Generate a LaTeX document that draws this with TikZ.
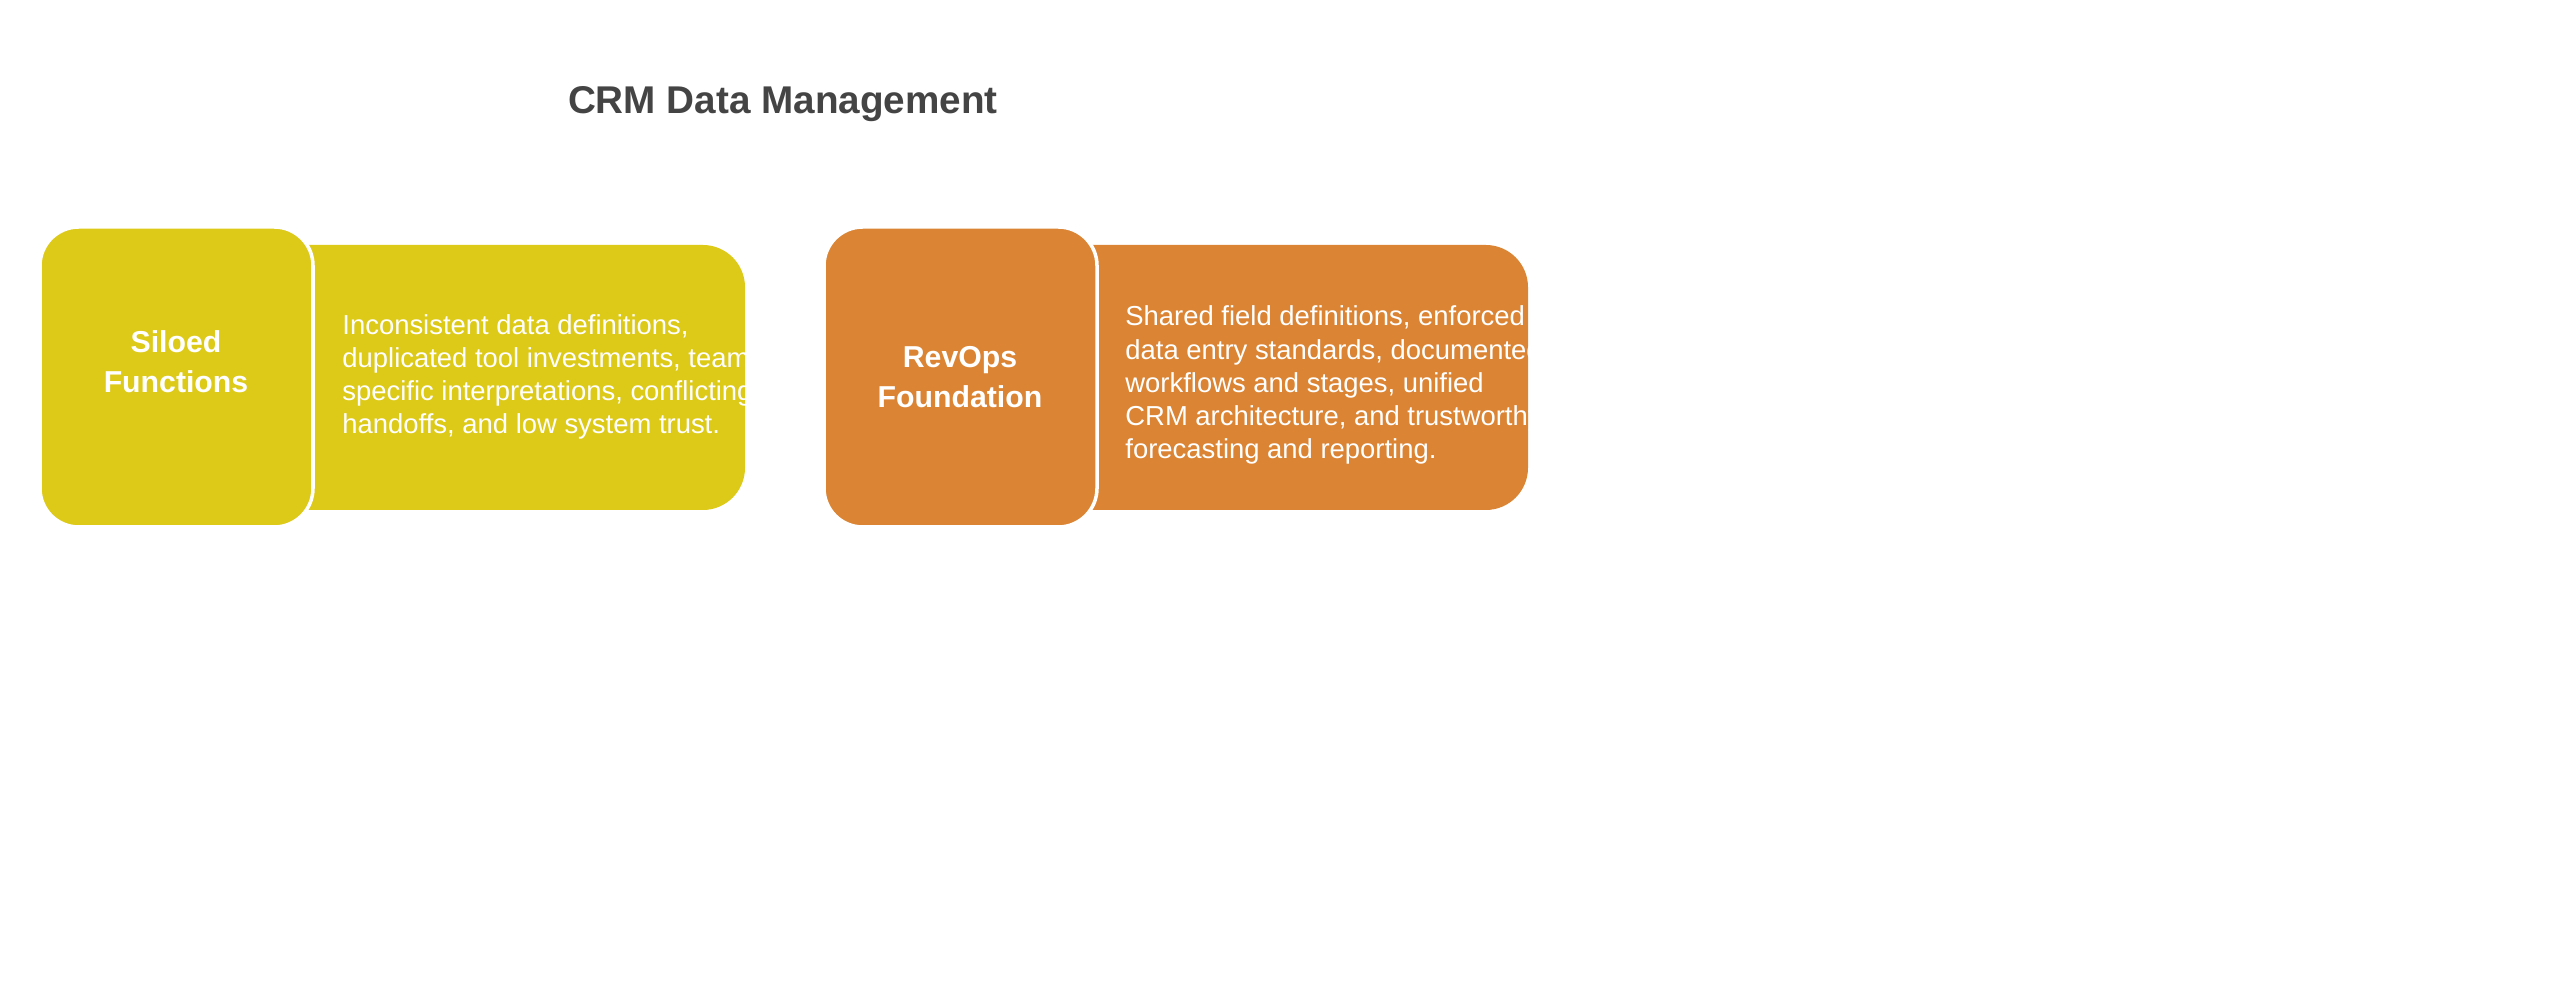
\documentclass[tikz,border=0pt]{standalone}
\usepackage{fontspec}
\setmainfont{Liberation Sans}
\definecolor{ylw}{HTML}{DDC918}
\definecolor{org}{HTML}{DB8433}
\definecolor{ttl}{HTML}{444444}
\begin{document}
\begin{tikzpicture}[x=0.01cm,y=-0.01cm,
  sq/.style={draw=white,line width=1pt,rounded corners=11pt},
  body/.style={anchor=west,align=left,text=white,font=\fontsize{7.8}{9.4}\selectfont},
  lab/.style={align=center,text=white,font=\bfseries\fontsize{8.6}{11.3}\selectfont}]
\path[use as bounding box] (0,0) rectangle (2560,992);
\node[font=\bfseries\fontsize{11}{13}\selectfont,text=ttl] (title) at (783,104) {CRM Data Management};
% left
\fill[ylw,rounded corners=12pt] (250,245) -- (745,245) -- (745,510) -- (250,510) -- cycle;
\filldraw[fill=ylw,sq] (40,227) rectangle (313,527);
\node[lab] (l1) at (176,362) {Siloed\\Functions};
\node[body] (t1) at (330,377) {Inconsistent data definitions,\\duplicated tool investments, team-\\specific interpretations, conflicting\\handoffs, and low system trust.};
% right
\fill[org,rounded corners=12pt] (1030,245) -- (1528,245) -- (1528,510) -- (1030,510) -- cycle;
\filldraw[fill=org,sq] (824,227) rectangle (1097,527);
\node[lab] (l2) at (960,377) {RevOps\\Foundation};
\node[body] (t2) at (1113,385) {Shared field definitions, enforced\\data entry standards, documented\\workflows and stages, unified\\CRM architecture, and trustworthy\\forecasting and reporting.};
\end{tikzpicture}
\end{document}
